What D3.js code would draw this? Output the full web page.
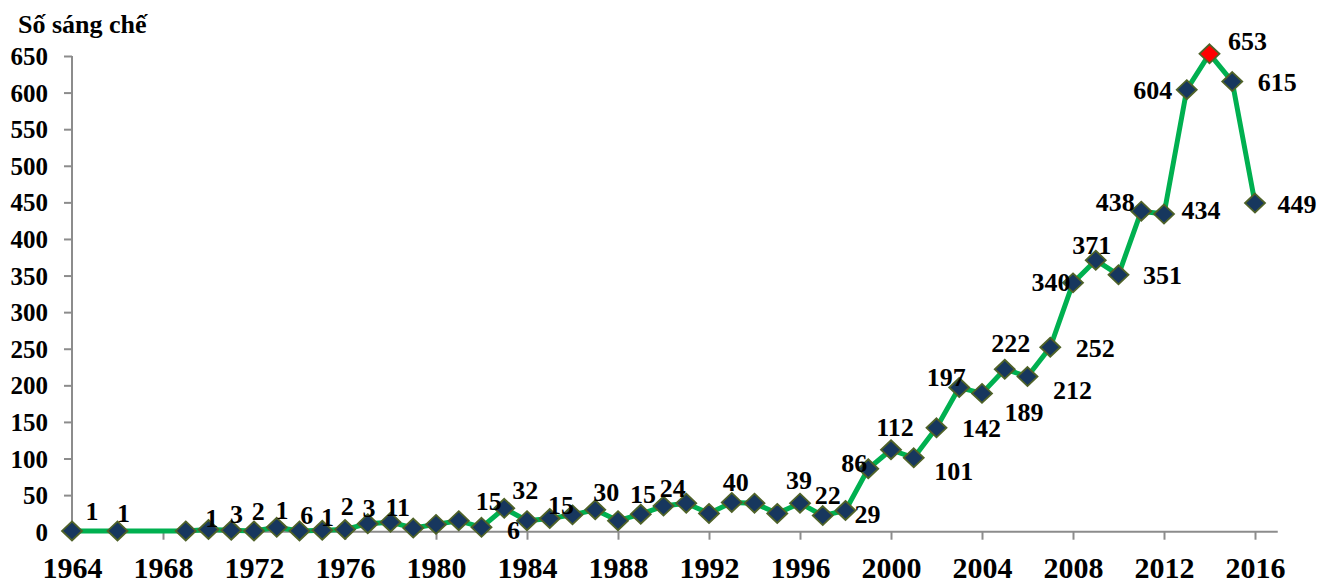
<!DOCTYPE html>
<html>
<head>
<meta charset="utf-8">
<script src="https://cdn.jsdelivr.net/npm/d3@7"></script>
<style>
  html, body { margin: 0; padding: 0; background: #fff; }
</style>
</head>
<body>
<svg id="chart" width="1333" height="585"></svg>
<script>
// Patents granted per year
const years = [1964, 1966, 1969, 1970, 1971, 1972, 1973, 1974, 1975, 1976, 1977, 1978, 1979, 1980,
  1981, 1982, 1983, 1984, 1985, 1986, 1987, 1988, 1989, 1990, 1991, 1992, 1993, 1994, 1995, 1996,
  1997, 1998, 1999, 2000, 2001, 2002, 2003, 2004, 2005, 2006, 2007, 2008, 2009, 2010, 2011, 2012,
  2013, 2014, 2015, 2016];
const counts = [1, 1, 1, 3, 2, 1, 6, 1, 2, 3, 11, 13, 5, 10,
  15, 6, 32, 15, 18, 23, 30, 15, 24, 35, 39, 25, 40, 39, 25, 39,
  22, 29, 86, 112, 101, 142, 197, 189, 222, 212, 252, 340, 371, 351, 438, 434,
  604, 653, 615, 449];

// Years whose value is printed next to the marker
const labelYears = [1964, 1966, 1969, 1970, 1971, 1972, 1973, 1974, 1975, 1976, 1977,
  1981, 1982, 1983, 1984, 1987, 1988, 1989, 1993, 1996, 1997, 1998, 1999,
  2000, 2001, 2002, 2003, 2004, 2005, 2006, 2007, 2008, 2009, 2010, 2011, 2012,
  2013, 2014, 2015, 2016];

const yTicks = [0, 50, 100, 150, 200, 250, 300, 350, 400, 450, 500, 550, 600, 650];
const xTicks = [1964, 1968, 1972, 1976, 1980, 1984, 1988, 1992, 1996, 2000, 2004, 2008, 2012, 2016];
const yTitle = "Số sáng chế";
const highlightYear = 2014;

// Label placement (centre of the label relative to its marker, in px)
const labelOffset = {
  1964: [20, -19], 1966: [6, -17], 1969: [26, -12], 1970: [28, -15], 1971: [27, -19],
  1972: [28, -20], 1973: [30, -12], 1974: [28, -13], 1975: [25, -24], 1976: [24, -21],
  1977: [30, -16], 1981: [30, -19], 1982: [32, 3], 1983: [21, -18], 1984: [34, -15],
  1987: [11, -17], 1988: [25, -26], 1989: [32, -26], 1993: [4, -20], 1996: [-1, -23],
  1997: [5, -20], 1998: [22, 4], 1999: [-14, -5], 2000: [4, -22], 2001: [40, 14],
  2002: [45, 1], 2003: [-13, -10], 2004: [42, 19], 2005: [6, -26], 2006: [45, 14],
  2007: [45, 1], 2008: [-22, 0], 2009: [-4, -15], 2010: [44, 1], 2011: [-26, -9],
  2012: [37, -4], 2013: [-34, 1], 2014: [38, -12], 2015: [45, 1], 2016: [42, 1]
};

const data = years.map((y, i) => ({ year: y, value: counts[i] }));

const FONT = "'Liberation Serif', 'Times New Roman', serif";
const svg = d3.select("#chart");

const x = d3.scaleLinear().domain([1964, 2017]).range([72, 1277.75]);
const y = d3.scaleLinear().domain([0, 650]).range([531.7, 56]);

const axisColor = "#8c8c8c";

function styleText(sel, size) {
  sel.style("font-family", FONT).style("font-weight", "bold").style("font-size", size + "px")
    .attr("fill", "#000");
}

// Y axis
const yAxis = svg.append("g")
  .attr("transform", `translate(${x(1964)},0)`)
  .call(d3.axisLeft(y).tickValues(yTicks).tickSize(8).tickPadding(16).tickFormat(d3.format("d")))
  .attr("font-family", null).attr("font-size", null);
yAxis.select(".domain").attr("stroke", axisColor).attr("stroke-width", 2).attr("d", `M0,${y(650)}V${y(0)}`);
yAxis.selectAll(".tick line").attr("stroke", axisColor).attr("stroke-width", 2);
yAxis.selectAll(".tick text").attr("dy", null).attr("dominant-baseline", "central").call(styleText, 25);

// X axis
const xAxis = svg.append("g")
  .attr("transform", `translate(0,${y(0)})`)
  .call(d3.axisBottom(x).tickValues(xTicks).tickSize(8).tickFormat(d3.format("d")))
  .attr("font-family", null).attr("font-size", null);
xAxis.select(".domain").attr("stroke", axisColor).attr("stroke-width", 2).attr("d", `M${x(1964)},0H${x(2017)}`);
xAxis.selectAll(".tick line").attr("stroke", axisColor).attr("stroke-width", 2);
xAxis.selectAll(".tick text").attr("y", 46.5).attr("dy", null).call(styleText, 30);

// Axis title
svg.append("text")
  .attr("x", 18).attr("y", 33)
  .text(yTitle)
  .call(styleText, 26);

// Line
const line = d3.line().x(d => x(d.year)).y(d => y(d.value));
svg.append("path")
  .datum(data)
  .attr("fill", "none")
  .attr("stroke", "#00b050")
  .attr("stroke-width", 5)
  .attr("stroke-linejoin", "round")
  .attr("d", line);

// Diamond markers
const diamond = "M0,-9.5L10,0L0,9.5L-10,0Z";
svg.append("g").selectAll("path")
  .data(data)
  .join("path")
  .attr("d", diamond)
  .attr("transform", d => `translate(${x(d.year)},${y(d.value)})`)
  .attr("fill", d => d.year === highlightYear ? "#ff0000" : "#17375e")
  .attr("stroke", "#4f6228")
  .attr("stroke-width", 1.8);

// Value labels
svg.append("g").selectAll("text")
  .data(data.filter(d => labelYears.includes(d.year)))
  .join("text")
  .attr("x", d => x(d.year) + labelOffset[d.year][0])
  .attr("y", d => y(d.value) + labelOffset[d.year][1])
  .attr("text-anchor", "middle")
  .attr("dominant-baseline", "central")
  .text(d => d.value)
  .call(styleText, 26);
</script>
</body>
</html>
